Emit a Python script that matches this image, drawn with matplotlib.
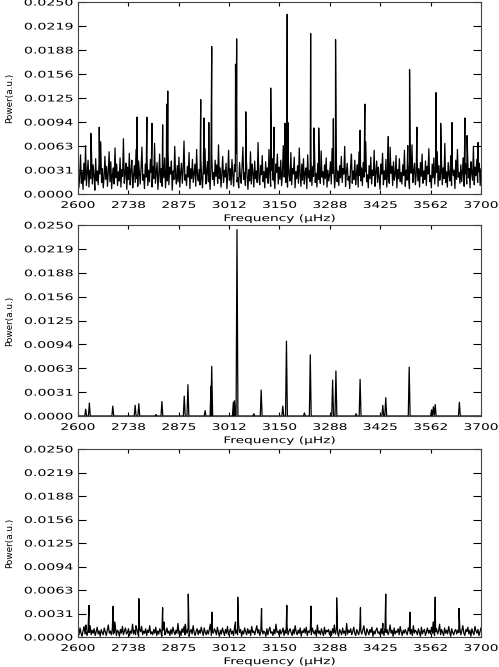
import numpy as np
import matplotlib
matplotlib.use('Agg')
import matplotlib.pyplot as plt
from matplotlib.patheffects import AbstractPathEffect
from matplotlib.transforms import Affine2D

# axis ranges / ticks (IDL style, 8 intervals)
f_min, f_max = 2600, 3700
p_max = 0.0250
x_ticks = [2600, 2737.5, 2875, 3012.5, 3150, 3287.5, 3425, 3562.5, 3700]
x_tick_labels = ['2600', '2738', '2875', '3012', '3150', '3288', '3425', '3562', '3700']
y_ticks = [0.0, 0.003125, 0.00625, 0.009375, 0.0125, 0.015625, 0.01875, 0.021875, 0.025]
y_tick_labels = ['0.0000', '0.0031', '0.0063', '0.0094', '0.0125', '0.0156', '0.0188', '0.0219', '0.0250']

# panel 1: observed spectrum, noise (units 1e-4) + peaks
noise_top = [
    35, 8, 22, 51, 14, 29, 6, 40, 18, 63, 11, 27, 44, 9, 31, 20, 57, 13, 38, 24, 5, 46, 17, 30,
    12, 41, 26, 68, 15, 33, 8, 22, 49, 19, 36, 10, 28, 55, 16, 42, 7, 25, 34, 13, 60, 21, 39, 11,
    29, 17, 47, 9, 32, 23, 72, 14, 26, 40, 6, 35, 19, 53, 12, 30, 44, 8, 24, 37, 15, 58, 20, 10,
    43, 27, 13, 34, 61, 18, 25, 7, 39, 22, 50, 11, 31, 16, 45, 28, 9, 36, 20, 66, 14, 27, 41, 6,
    24, 52, 15, 33, 10, 38, 21, 47, 8, 29, 17, 56, 12, 35, 26, 43, 5, 30, 19, 62, 23, 13, 37, 16,
    48, 9, 28, 40, 14, 31, 69, 18, 25, 11, 36, 22, 54, 7, 33, 20, 45, 15, 27, 39, 10, 58, 24, 17,
    32, 12, 46, 21, 8, 37, 26, 59, 13, 30, 42, 16, 24, 6, 35, 51, 19, 28, 11, 44, 23, 38, 14, 64,
    20, 34, 9, 27, 49, 15, 31, 22, 40, 7, 26, 57, 18, 33, 12, 45, 25, 10, 38, 29, 53, 16, 21, 8,
    41, 23, 14, 36, 61, 19, 28, 11, 47, 24, 6, 32, 17, 55, 13, 39, 27, 9, 43, 20, 30, 15, 67, 22,
    12, 37, 25, 50, 16, 29, 8, 42, 21, 34, 14, 58, 26, 10, 31, 46, 18, 24, 7, 39, 28, 52, 13, 35,
    19, 44, 11, 27, 63, 22, 36, 15, 30, 9, 41, 24, 17, 54, 12, 33, 26, 48, 8, 29, 20, 37, 14, 60,
    25, 10, 39, 18, 46, 13, 28, 34, 7, 51, 21, 30, 16, 43, 11, 36, 23, 65, 15, 27, 9, 40, 19, 32,
    14, 56, 22, 29, 12, 38, 20, 47, 9, 31, 17, 25, 42, 13, 59, 27, 35, 8, 24, 45, 16, 30, 11, 37,
    21, 49, 15, 33, 26, 62, 10, 28, 40, 18, 23, 7, 36, 52, 14, 30, 19, 44, 12, 27, 38, 9, 55, 24,
    17, 34, 11, 41, 22, 29, 68, 16, 25, 8, 37, 20, 48, 13, 31, 24, 57, 10, 28, 43, 15, 35, 21, 6,
    39, 26, 53, 12, 30, 19, 45, 9, 33, 23, 14, 61, 27, 36, 11, 42, 18, 25, 50, 8, 32, 20, 46, 16,
    28, 13, 38, 24, 57, 10, 31, 18, 44, 22, 7, 35, 27, 64, 15, 29, 40, 12, 26, 48, 17, 33, 9, 41,
    23, 52, 14, 30, 19, 43, 11, 36, 26, 59, 16, 24, 8, 39, 21, 47, 13, 32, 28, 55, 10, 37, 18, 27,
    45, 12, 34, 20, 66, 15, 29, 9, 41, 25, 17, 50, 11, 36, 24, 31, 7, 44, 19, 58, 22, 28, 14, 38,
    16, 30, 47, 10, 26, 39, 13, 54, 21, 33, 8, 42, 27, 18, 62, 12, 35, 24, 45, 15, 29, 40, 11, 33,
]
top_peak_freq = [2635, 2658, 2761, 2788, 2802, 2831, 2842, 2845, 2935, 2944, 2957, 2965, 3030, 3033,
                 3058, 3126, 3135, 3165, 3171, 3173, 3235, 3244, 3257, 3297, 3303, 3370, 3383, 3447,
                 3500, 3505, 3525, 3577, 3590, 3621, 3656, 3662, 3692]
top_peak_pow = [0.0079, 0.0087, 0.0100, 0.0100, 0.0092, 0.0090, 0.0117, 0.0134, 0.0123, 0.0099, 0.0093,
                0.0192, 0.0169, 0.0202, 0.0107, 0.0138, 0.0087, 0.0092, 0.0234, 0.0093, 0.0209, 0.0086,
                0.0086, 0.0098, 0.0201, 0.0083, 0.0117, 0.0075, 0.0063, 0.0162, 0.0087, 0.0132, 0.0092,
                0.0093, 0.0099, 0.0076, 0.0067]

# panel 2: model spectrum, peaks only
mid_peak_freq = [2621, 2631, 2695, 2756, 2766, 2813, 2829, 2890, 2900, 2947, 2963, 2965, 3024, 3027,
                 3034, 3080, 3100, 3159, 3169, 3218, 3234, 3295, 3304, 3359, 3370, 3432, 3440, 3504,
                 3565, 3570, 3575, 3641]
mid_peak_pow = [0.0009, 0.0017, 0.0013, 0.0014, 0.0016, 0.0002, 0.0019, 0.0026, 0.0041, 0.0007, 0.0039,
                0.0065, 0.0018, 0.0020, 0.0244, 0.0003, 0.0034, 0.0013, 0.0098, 0.0004, 0.0080, 0.0047,
                0.0059, 0.0003, 0.0048, 0.0014, 0.0024, 0.0064, 0.0008, 0.0012, 0.0015, 0.0018]

# panel 3: residual spectrum, noise (units 1e-4) + peaks
noise_bot = [
    9, 3, 12, 5, 1, 8, 14, 4, 7, 2, 10, 6, 15, 3, 9, 5, 11, 2, 7, 13, 4, 8, 1, 10, 6,
    3, 12, 7, 2, 9, 16, 5, 8, 3, 11, 4, 6, 13, 2, 9, 7, 1, 10, 5, 14, 3, 8, 12, 4, 6,
    11, 2, 8, 5, 17, 4, 9, 3, 12, 6, 1, 10, 7, 14, 3, 8, 5, 11, 2, 9, 6, 15, 4, 7, 3,
    10, 5, 13, 2, 8, 4, 11, 7, 1, 9, 16, 3, 6, 12, 5, 8, 2, 10, 4, 13, 7, 3, 9, 5, 18,
    4, 8, 2, 11, 6, 14, 3, 9, 5, 12, 1, 7, 10, 4, 15, 6, 2, 8, 11, 3, 9, 5, 13, 7, 2,
    12, 6, 3, 9, 4, 10, 17, 2, 7, 5, 11, 8, 3, 13, 6, 1, 9, 4, 12, 7, 2, 10, 5, 14, 3,
    7, 11, 4, 8, 2, 13, 5, 9, 3, 16, 6, 10, 1, 8, 4, 12, 7, 3, 11, 5, 9, 2, 14, 6, 8,
    3, 9, 15, 5, 10, 2, 7, 12, 4, 8, 6, 1, 11, 3, 9, 13, 5, 7, 2, 10, 4, 17, 6, 8, 3,
    10, 4, 7, 12, 2, 9, 5, 14, 3, 8, 11, 6, 2, 10, 4, 15, 7, 3, 9, 5, 12, 1, 8, 6, 11,
    5, 13, 2, 8, 6, 10, 3, 12, 7, 4, 9, 1, 16, 5, 8, 3, 11, 6, 2, 13, 4, 9, 7, 10, 3,
    8, 2, 11, 5, 9, 4, 14, 6, 1, 10, 7, 3, 12, 5, 8, 2, 18, 4, 9, 6, 11, 3, 7, 13, 5,
    2, 10, 6, 3, 12, 8, 4, 9, 15, 5, 2, 11, 7, 3, 10, 6, 13, 1, 8, 4, 9, 12, 5, 7, 3,
    11, 4, 8, 2, 13, 6, 10, 3, 7, 16, 5, 9, 1, 12, 4, 8, 6, 11, 3, 14, 7, 2, 9, 5, 10,
    6, 3, 12, 8, 4, 10, 2, 15, 5, 9, 7, 3, 11, 6, 1, 13, 4, 8, 10, 2, 7, 12, 5, 9, 4,
    13, 5, 9, 2, 7, 11, 4, 8, 17, 3, 10, 6, 2, 12, 5, 9, 4, 14, 7, 1, 11, 6, 3, 8, 10,
    4, 9, 6, 12, 3, 8, 15, 5, 2, 10, 7, 13, 4, 9, 1, 11, 6, 3, 14, 8, 5, 10, 2, 7, 12,
]
bot_peak_freq = [2622, 2630, 2696, 2700, 2758, 2766, 2831, 2835, 2893, 2901, 2966, 3030, 3036, 3101,
                 3170, 3236, 3300, 3306, 3371, 3432, 3440, 3506, 3570, 3575, 3640]
bot_peak_pow = [0.0016, 0.0042, 0.0041, 0.0020, 0.0015, 0.0051, 0.0039, 0.0020, 0.0017, 0.0057, 0.0033,
                0.0020, 0.0053, 0.0038, 0.0042, 0.0041, 0.0016, 0.0052, 0.0039, 0.0018, 0.0057, 0.0033,
                0.0020, 0.0053, 0.0038]


class Stretch(AbstractPathEffect):
    # widen glyphs along the text direction (IDL vector font look)
    def __init__(self, sx, anchor=0.5):
        super().__init__()
        self.sx = sx
        self.anchor = anchor

    def draw_path(self, renderer, gc, tpath, affine, rgbFace=None):
        ext = tpath.get_extents()
        cx = ext.x0 + self.anchor * ext.width
        st = Affine2D().translate(-cx, 0).scale(self.sx, 1).translate(cx, 0)
        renderer.draw_path(gc, tpath, st + affine, rgbFace)


def merge(noise, peak_f, peak_p):
    fn = np.linspace(f_min, f_max, len(noise))
    f = np.concatenate([fn, peak_f])
    p = np.concatenate([np.array(noise) * 1e-4, peak_p])
    idx = np.argsort(f, kind='stable')
    return f[idx], p[idx]


def tents(peak_f, peak_p, hw=2.5):
    f = [f_min]
    p = [0.0]
    for fc, pc in sorted(zip(peak_f, peak_p)):
        f += [fc - hw, fc, fc + hw]
        p += [0.0, pc, 0.0]
    f.append(f_max)
    p.append(0.0)
    return f, p


fig = plt.figure(figsize=(4.99, 6.67), dpi=100)
fig.set_facecolor('w')

fs = 6.6
boxes = [
    [78/499, 1 - 194/667, 403/499, 192/667],
    [78/499, 1 - 416/667, 403/499, 191/667],
    [78/499, 1 - 637/667, 403/499, 188/667],
]
series = [
    merge(noise_top, top_peak_freq, top_peak_pow),
    tents(mid_peak_freq, mid_peak_pow),
    merge(noise_bot, bot_peak_freq, bot_peak_pow),
]

for box, (fx, px) in zip(boxes, series):
    ax = fig.add_axes(box)
    ax.plot(fx, px, color='k', lw=0.9)
    ax.set_xlim(f_min, f_max)
    ax.set_ylim(0, p_max)
    ax.set_xticks(x_ticks)
    ax.set_xticklabels(x_tick_labels, family='DejaVu Sans', size=fs)
    ax.set_yticks(y_ticks)
    ax.set_yticklabels(y_tick_labels, family='DejaVu Sans', size=fs)
    for t in ax.get_xticklabels():
        t.set_path_effects([Stretch(1.5, 0.5)])
    for t in ax.get_yticklabels():
        t.set_path_effects([Stretch(1.55, 1.0)])
    ax.tick_params(axis='x', direction='in', length=3, width=0.8, top=True, pad=5)
    ax.tick_params(axis='y', direction='in', length=6, width=0.8, right=True, pad=3.5)
    for s in ax.spines.values():
        s.set_linewidth(0.8)
        s.set_color('#444444')
    xl = ax.set_xlabel('Frequency (\u03bcHz)', family='DejaVu Sans', size=fs, labelpad=3)
    xl.set_path_effects([Stretch(1.5, 0.5)])
    ax.set_ylabel('Power(a.u.)', family='DejaVu Sans', size=6.4)
    ax.yaxis.set_label_coords(-0.158, 0.5)

plt.savefig('out.png', dpi=100)
plt.close()
